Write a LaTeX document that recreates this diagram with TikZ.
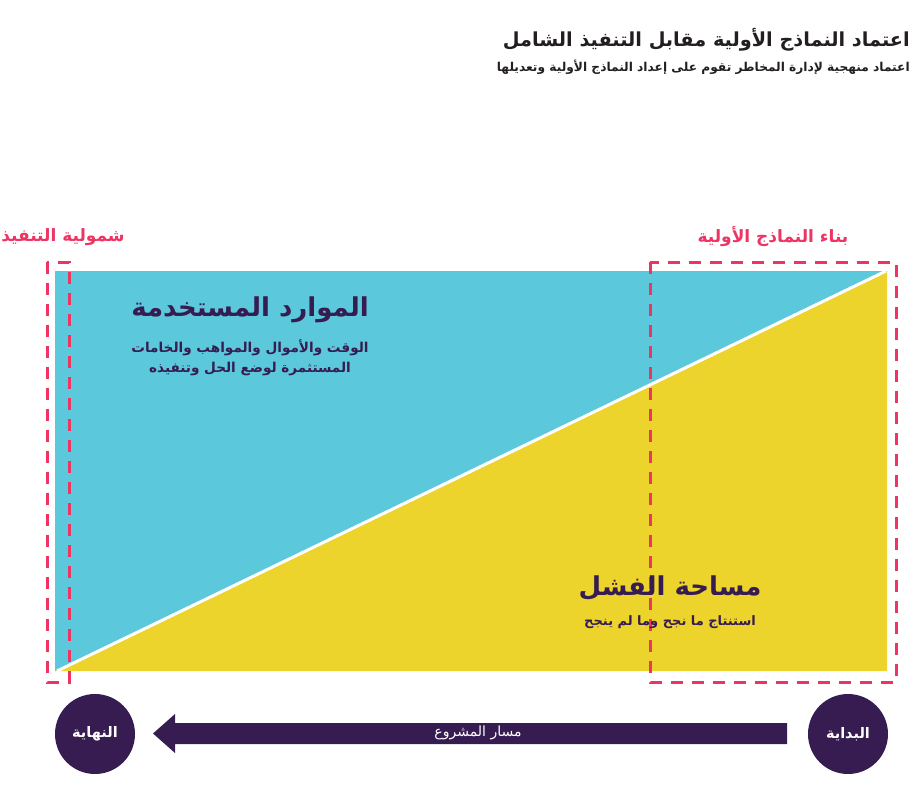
\documentclass[tikz,border=0pt]{standalone}
\usepackage{fontspec}
\TeXXeTstate=1
\newfontfamily\arabicfont[Script=Arabic]{DejaVu Sans}
\definecolor{cyanA}{HTML}{5BC8DB}
\definecolor{yellowA}{HTML}{ECD42C}
\definecolor{purpleA}{HTML}{361C50}
\definecolor{pinkA}{HTML}{EE3463}
\definecolor{titleA}{HTML}{231F20}
\begin{document}
\begin{tikzpicture}[x=1pt,y=-1pt,
  ar/.style={font=\arabicfont\bfseries, inner sep=0pt},
  dashbox/.style={draw=pinkA, line width=3pt, dash pattern=on 12pt off 9pt},
  endcircle/.style={circle, fill=purpleA, minimum size=80pt, inner sep=0pt, text=white, font=\arabicfont\bfseries\fontsize{14.5}{16}\selectfont}]
\useasboundingbox (0,0) rectangle (914,800);
% title
\node[ar, anchor=east, text=titleA, font=\arabicfont\bfseries\fontsize{19.3}{24}\selectfont] (title) at (910,40) {\beginR اعتماد النماذج الأولية مقابل التنفيذ الشامل\endR};
\node[ar, anchor=east, text=titleA, font=\arabicfont\bfseries\fontsize{12.2}{16}\selectfont] (subtitle) at (910,67) {\beginR اعتماد منهجية لإدارة المخاطر تقوم على إعداد النماذج الأولية وتعديلها\endR};
% regions
\fill[cyanA] (55,271) rectangle (887,671);
\fill[yellowA] (55,671) -- (887,271) -- (887,671) -- cycle;
\coordinate (dA) at (57,671);
\coordinate (dB) at (886,271);
\draw[white, line width=3pt] (dA) -- (dB);
% dashed boxes
\draw[dashbox] (47,262) rectangle (69,682);
\draw[dashbox] (650,262) rectangle (896,682);
% labels
\node[ar, text=pinkA, font=\arabicfont\bfseries\fontsize{17}{20}\selectfont] (lblL) at (63,237) {\beginR شمولية التنفيذ\endR};
\node[ar, text=pinkA, font=\arabicfont\bfseries\fontsize{17}{20}\selectfont] (lblR) at (773,237) {\beginR بناء النماذج الأولية\endR};
% region texts
\node[ar, text=purpleA, font=\arabicfont\bfseries\fontsize{26}{30}\selectfont] (res) at (250,310) {\beginR الموارد المستخدمة\endR};
\node[ar, text=purpleA, font=\arabicfont\bfseries\fontsize{13.6}{20}\selectfont, align=center] (resd) at (250,358) {\beginR الوقت والأموال والمواهب والخامات\endR\\\beginR المستثمرة لوضع الحل وتنفيذه\endR};
\node[ar, text=purpleA, font=\arabicfont\bfseries\fontsize{26}{30}\selectfont] (fail) at (670,588) {\beginR مساحة الفشل\endR};
\node[ar, text=purpleA, font=\arabicfont\bfseries\fontsize{13}{16}\selectfont] (faild) at (670,622) {\beginR استنتاج ما نجح وما لم ينجح\endR};
% path arrow
\node[endcircle] (endc) at (95,734) {\beginR النهاية\endR};
\node[endcircle] (startc) at (848,734) {\beginR البداية\endR};
\fill[purpleA] (787,723) -- (175,723) -- (175,714) -- (153,733.5) -- (175,753) -- (175,744) -- (787,744) -- cycle;
\node[ar, text=white, font=\arabicfont\fontsize{14}{16}\selectfont] (pathlbl) at (478,733) {\beginR مسار المشروع\endR};
\end{tikzpicture}
\end{document}
